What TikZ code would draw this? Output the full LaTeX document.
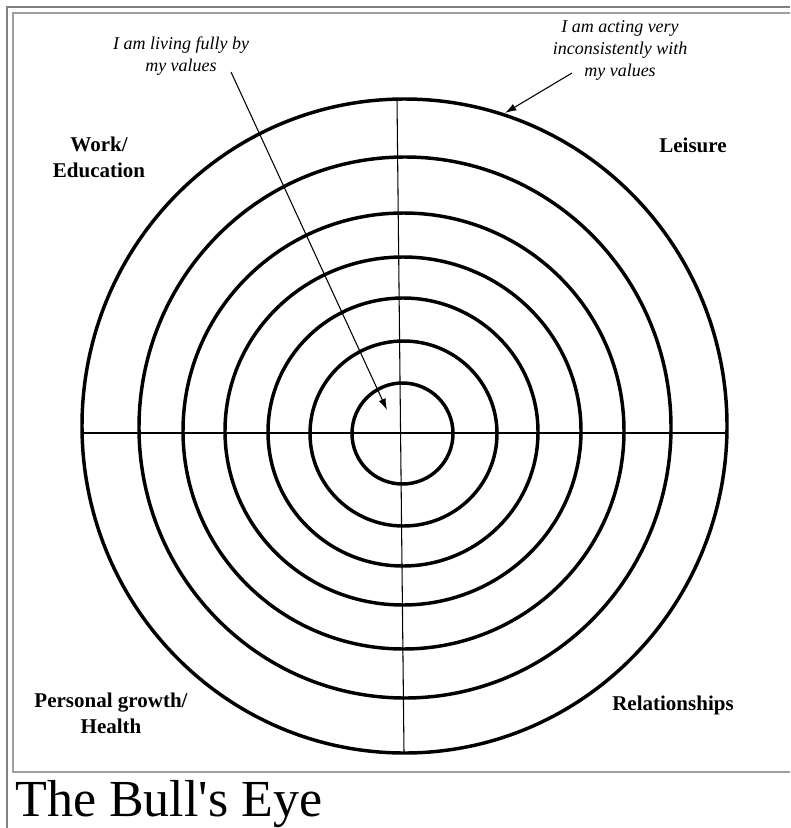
\documentclass[tikz,border=0pt]{standalone}
\usepackage{fontspec}
\setmainfont{Liberation Serif}
\usetikzlibrary{shapes,arrows.meta,positioning}

\tikzset{
  ring/.style={line width=2.6pt},
  axis/.style={line width=0.8pt},
  frame/.style={line width=1.1pt},
  area/.style={font=\bfseries\fontsize{15.75}{19.5}\selectfont, align=center, inner sep=0pt},
  note/.style={font=\itshape\fontsize{13.5}{16.5}\selectfont, align=center, inner sep=0pt}
}

\begin{document}
\begin{tikzpicture}[x=0.75pt, y=-0.75pt, >={Latex[length=8.5pt,width=5.5pt]}]
\useasboundingbox (0,0) rectangle (790,828);

% page frames
\draw[frame,gray] (7,828) -- (7,7) -- (790,7);
\draw[frame,gray!75] (790,13) -- (13,13) -- (13,772) -- (790,772);

% rings of the target
\foreach \cx/\cy/\rx/\ry in {404.5/426/322.5/327, 405/427.5/266/270.5,
    403.5/431/220.5/218, 403/431/178/174, 403/432/135/134,
    403.5/433.5/93.5/92.5, 402.5/433.5/50.5/50.5}
  \draw[ring] (\cx,\cy) ellipse[x radius=\rx, y radius=\ry];

% cross
\coordinate (top) at (397,99);
\coordinate (bottom) at (404,753);
\coordinate (left) at (82,433);
\coordinate (right) at (727,433);
\draw[axis] (top) -- (bottom);
\draw[axis] (left) -- (right);

% areas of life
\node[area] (work) at (99,157) {Work/\\Education};
\node[area, anchor=base] (leisure) at (693,152) {Leisure};
\node[area] (growth) at (111,713) {Personal growth/\\Health};
\node[area, anchor=base] (relations) at (673,710) {Relationships};

% notes
\node[note] (fully) at (181,56) {I am living fully by\\my values};
\node[note] (inconsistent) at (620,50) {I am acting very\\inconsistently with\\my values};
\coordinate (fullystart) at (231,72);
\coordinate (fullytip) at (387,410);
\coordinate (inconstart) at (572,73);
\coordinate (incontip) at (505,113);
\draw[->, line width=0.8pt] (fullystart) -- (fullytip);
\draw[->, line width=0.8pt] (inconstart) -- (incontip);

% title
\node[anchor=base west, inner sep=0pt, font=\fontsize{39}{46}\selectfont] (title) at (15,816) {The Bull\textquotesingle s Eye};
\end{tikzpicture}
\end{document}
